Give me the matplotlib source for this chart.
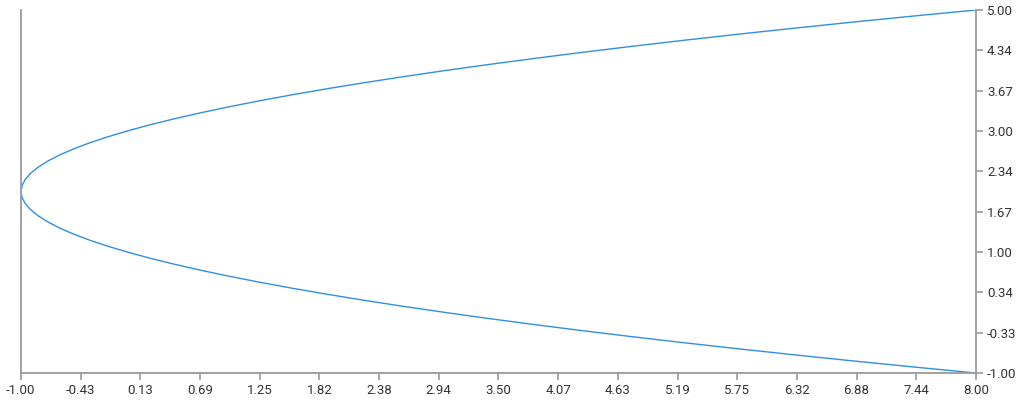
import matplotlib
matplotlib.use("Agg")
import matplotlib.pyplot as plt

# Curve points (x, y)
y_vals = [-1.0, -0.9, -0.8, -0.7, -0.6, -0.5, -0.4, -0.3, -0.2, -0.1,
          0.0, 0.1, 0.2, 0.3, 0.4, 0.5, 0.6, 0.7, 0.8, 0.9,
          1.0, 1.1, 1.2, 1.3, 1.4, 1.5, 1.6, 1.7, 1.8, 1.9,
          2.0, 2.1, 2.2, 2.3, 2.4, 2.5, 2.6, 2.7, 2.8, 2.9,
          3.0, 3.1, 3.2, 3.3, 3.4, 3.5, 3.6, 3.7, 3.8, 3.9,
          4.0, 4.1, 4.2, 4.3, 4.4, 4.5, 4.6, 4.7, 4.8, 4.9, 5.0]
x_vals = [8.0, 7.41, 6.84, 6.29, 5.76, 5.25, 4.76, 4.29, 3.84, 3.41,
          3.0, 2.61, 2.24, 1.89, 1.56, 1.25, 0.96, 0.69, 0.44, 0.21,
          0.0, -0.19, -0.36, -0.51, -0.64, -0.75, -0.84, -0.91, -0.96, -0.99,
          -1.0, -0.99, -0.96, -0.91, -0.84, -0.75, -0.64, -0.51, -0.36, -0.19,
          0.0, 0.21, 0.44, 0.69, 0.96, 1.25, 1.56, 1.89, 2.24, 2.61,
          3.0, 3.41, 3.84, 4.29, 4.76, 5.25, 5.76, 6.29, 6.84, 7.41, 8.0]

x_tick_labels = ["-1.00", "-0.43", "0.13", "0.69", "1.25", "1.82", "2.38", "2.94", "3.50",
                 "4.07", "4.63", "5.19", "5.75", "6.32", "6.88", "7.44", "8.00"]
y_tick_labels = ["-1.00", "-0.33", "0.34", "1.00", "1.67", "2.34", "3.00", "3.67", "4.34", "5.00"]

plt.rcParams['font.family'] = ['Roboto', 'DejaVu Sans']

fig = plt.figure(figsize=(10.24, 4.0), dpi=100)
ax = fig.add_axes([21 / 1024, 27 / 400, (976 - 21) / 1024, (373 - 10) / 400])

ax.plot(x_vals, y_vals, color="#2f8fe5", linewidth=1.0, solid_joinstyle="round")

xmin, xmax = -1.0, 8.0
ymin, ymax = -1.0, 5.0
ax.set_xlim(xmin, xmax)
ax.set_ylim(ymin, ymax)

nx = len(x_tick_labels) - 1
ny = len(y_tick_labels) - 1
ax.set_xticks([xmin + (xmax - xmin) * i / nx for i in range(nx + 1)])
ax.set_xticklabels(x_tick_labels)
ax.set_yticks([ymin + (ymax - ymin) * i / ny for i in range(ny + 1)])
ax.set_yticklabels(y_tick_labels)

ax.yaxis.tick_right()
ax.spines['top'].set_visible(False)
for s in ['left', 'right', 'bottom']:
    ax.spines[s].set_color("#9a9a9a")
    ax.spines[s].set_linewidth(1.3)

ax.tick_params(axis='both', colors="#9a9a9a", length=5, width=1.2, labelsize=9.5, labelcolor="#333333")
ax.tick_params(axis='x', pad=3)
ax.tick_params(axis='y', pad=3)
for lab in ax.get_xticklabels() + ax.get_yticklabels():
    lab.set_clip_on(False)

fig.savefig("out.png", dpi=100)
